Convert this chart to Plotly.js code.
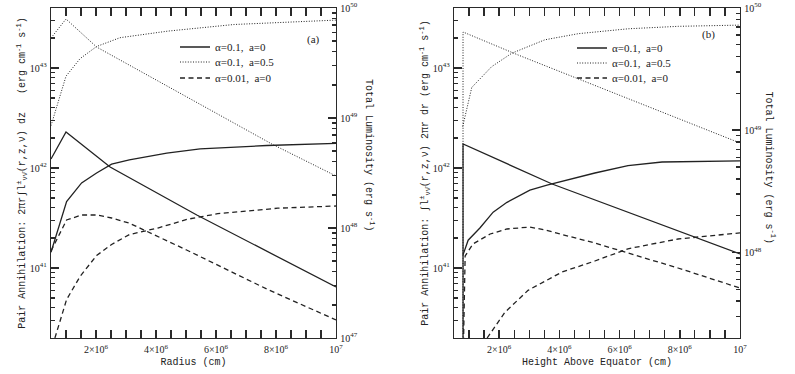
<!DOCTYPE html>
<html>
<head>
<meta charset="utf-8">
<script src="https://cdn.plot.ly/plotly-3.0.1.min.js"></script>
<style>
  html, body { margin: 0; padding: 0; background: #fff; }
  #chart { width: 795px; height: 374px; }
</style>
</head>
<body>
<div id="chart"></div>
<script>
// ---- panel (a): vs radius (cm); values are log10 of the plotted quantity ----
const radSolidLocal = [5e5, 1.0e6, 2.47e6, 5.36e6, 1e7];
const logSolidLocalA = [42.09, 42.36, 42.01, 41.53, 40.81];
const radSolidTotal = [5e5, 1.02e6, 1.52e6, 2.02e6, 2.52e6, 3.11e6, 4.36e6, 5.47e6, 7.69e6, 1e7];
const logSolidTotalA = [47.78, 48.24, 48.41, 48.50, 48.58, 48.62, 48.68, 48.72, 48.75, 48.77];

const radDotLocal = [5e5, 1.0e6, 2.02e6, 7.86e6, 1e7];
const logDotLocalA = [43.30, 43.49, 43.21, 42.24, 41.92];
const radDotTotal = [5e5, 1.0e6, 1.47e6, 2.02e6, 2.8e6, 4.4e6, 6.6e6, 1e7];
const logDotTotalA = [48.93, 49.38, 49.54, 49.65, 49.73, 49.79, 49.85, 49.89];

const radDashLocal = [5e5, 1.02e6, 1.52e6, 2.02e6, 2.52e6, 3.1e6, 5.02e6, 7.69e6, 1e7];
const logDashLocalA = [41.17, 41.48, 41.53, 41.53, 41.50, 41.45, 41.18, 40.79, 40.48];
const radDashTotal = [6.3e5, 1.02e6, 1.47e6, 2.02e6, 2.52e6, 3.11e6, 4.06e6, 5.06e6, 6.06e6, 8.06e6, 1e7];
const logDashTotalA = [47.0, 47.35, 47.56, 47.75, 47.85, 47.94, 48.00, 48.08, 48.13, 48.18, 48.20];

// ---- panel (b): vs height above equator (cm) ----
const hSolidLocal = [8e5, 8e5, 3.76e6, 1e7];
const logSolidLocalB = [40.0, 42.24, 41.84, 41.14];
const hSolidTotal = [8e5, 9.7e5, 1.36e6, 1.80e6, 2.26e6, 3.02e6, 3.59e6, 5.18e6, 6.28e6, 7.41e6, 1e7];
const logSolidTotalB = [47.98, 48.10, 48.20, 48.33, 48.41, 48.51, 48.55, 48.65, 48.71, 48.74, 48.75];

const hDotLocal = [8e5, 8e5, 2.63e6, 1e7];
const logDotLocalB = [40.0, 43.36, 43.13, 42.25];
const hDotTotal = [7.9e5, 1.09e6, 1.75e6, 2.42e6, 3.52e6, 4.63e6, 6.29e6, 7.95e6, 1e7];
const logDotTotalB = [49.03, 49.35, 49.52, 49.63, 49.74, 49.79, 49.83, 49.85, 49.86];

const hDashLocal = [8e5, 8.7e5, 1.13e6, 1.70e6, 2.26e6, 3.02e6, 3.52e6, 5.18e6, 6.28e6, 7.94e6, 1e7];
const logDashLocalB = [40.0, 41.12, 41.24, 41.34, 41.39, 41.41, 41.38, 41.25, 41.15, 41.00, 40.80];
const hDashTotal = [1.6e6, 2.19e6, 2.96e6, 4.09e6, 5.18e6, 6.28e6, 7.94e6, 1e7];
const logDashTotalB = [47.30, 47.51, 47.69, 47.84, 47.93, 48.03, 48.11, 48.16];

const seriesNames = ['α=0.1,  a=0', 'α=0.1,  a=0.5', 'α=0.01,  a=0'];
const xTickVals = [2e6, 4e6, 6e6, 8e6, 1e7];
const xTickText = ['2×10<sup>6</sup>', '4×10<sup>6</sup>', '6×10<sup>6</sup>', '8×10<sup>6</sup>', '10<sup>7</sup>'];

const ink = '#222';
const styles = [
    { color: ink, width: 1.3, dash: 'solid' },
    { color: ink, width: 1, dash: '1px,1.6px' },
    { color: ink, width: 1.3, dash: '5px,3.5px' }
];

// one legend box per row, so the rows sit as tight as in the figure
const legendIds = [['legend', 'legend2', 'legend3'], ['legend4', 'legend5', 'legend6']];

function curve(x, logs, idx, xa, ya, panel, inLegend) {
    return {
        x: x,
        y: logs.map(v => Math.pow(10, v)),
        xaxis: xa, yaxis: ya,
        type: 'scatter', mode: 'lines',
        name: seriesNames[idx],
        line: styles[idx],
        legend: legendIds[panel][idx],
        showlegend: inLegend,
        hoverinfo: 'skip'
    };
}

const traces = [
    curve(radSolidLocal, logSolidLocalA, 0, 'x', 'y', 0, true),
    curve(radDotLocal, logDotLocalA, 1, 'x', 'y', 0, true),
    curve(radDashLocal, logDashLocalA, 2, 'x', 'y', 0, true),
    curve(radSolidTotal, logSolidTotalA, 0, 'x', 'y2', 0, false),
    curve(radDotTotal, logDotTotalA, 1, 'x', 'y2', 0, false),
    curve(radDashTotal, logDashTotalA, 2, 'x', 'y2', 0, false),

    curve(hSolidLocal, logSolidLocalB, 0, 'x2', 'y3', 1, true),
    curve(hDotLocal, logDotLocalB, 1, 'x2', 'y3', 1, true),
    curve(hDashLocal, logDashLocalB, 2, 'x2', 'y3', 1, true),
    curve(hSolidTotal, logSolidTotalB, 0, 'x2', 'y4', 1, false),
    curve(hDotTotal, logDotTotalB, 1, 'x2', 'y4', 1, false),
    curve(hDashTotal, logDashTotalB, 2, 'x2', 'y4', 1, false)
];

const W = 795, H = 374;
const tickFont = { family: 'Liberation Serif, serif', size: 10, color: ink };
const titleFont = { family: 'Liberation Mono, monospace', size: 10, color: ink };
const axisColor = '#2a2a2a';
const yDomain = [1 - 338 / H, 1 - 8 / H];
const sp = '\u00a0';

// decade ticks 10^n, and minor ticks at 2..9 x 10^n, for a log range
function decadeTicks(range) {
    const vals = [], text = [], minors = [];
    for (let d = Math.floor(range[0]); d <= Math.ceil(range[1]); d++) {
        if (d >= range[0] - 1e-9 && d <= range[1] + 1e-9) {
            vals.push(Math.pow(10, d));
            text.push('10<sup>' + d + '</sup>');
        }
        for (let m = 2; m <= 9; m++) minors.push(m * Math.pow(10, d));
    }
    return { vals, text, minors };
}

function xAxis(left, right, anchor, title) {
    return {
        domain: [left / W, right / W], anchor: anchor,
        range: [5e5, 1e7],
        tickmode: 'array', tickvals: xTickVals, ticktext: xTickText,
        ticks: 'inside', ticklen: 8, tickwidth: 1.5, tickcolor: axisColor,
        minor: { ticks: 'inside', ticklen: 4, tickwidth: 1.3, tickmode: 'linear', tick0: 0, dtick: 5e5, tickcolor: axisColor },
        showline: true, linecolor: axisColor, linewidth: 1.3, mirror: 'allticks',
        showgrid: false, zeroline: false,
        tickfont: tickFont, ticklabelstandoff: 2,
        title: { text: title, font: titleFont, standoff: 3 }
    };
}

function logAxis(range, side, anchor, extra) {
    const t = decadeTicks(range);
    return Object.assign({
        type: 'log', range: range, side: side, anchor: anchor,
        tickmode: 'array', tickvals: t.vals, ticktext: t.text,
        ticks: 'inside', ticklen: 8, tickwidth: 1.5, tickcolor: axisColor,
        minor: {
            ticks: 'inside', ticklen: 4, tickwidth: 1.3, tickcolor: axisColor,
            tickmode: 'array', tickvals: t.minors
        },
        showline: true, linecolor: axisColor, linewidth: 1.3,
        showgrid: false, zeroline: false,
        tickfont: tickFont, ticklabelstandoff: 1
    }, extra);
}

function legendRow(left, top) {
    return {
        x: left / W, y: 1 - top / H, xanchor: 'left', yanchor: 'middle',
        bgcolor: 'rgba(0,0,0,0)', borderwidth: 0,
        font: { family: 'Liberation Serif, serif', size: 11, color: ink },
        itemwidth: 30
    };
}

const layout = {
    width: W, height: H,
    margin: { l: 0, r: 0, t: 0, b: 0 },
    paper_bgcolor: '#fff', plot_bgcolor: '#fff',
    xaxis: xAxis(51, 336, 'y', 'Radius (cm)'),
    xaxis2: xAxis(454, 740, 'y3', 'Height Above Equator (cm)'),
    yaxis: logAxis([40.3, 43.6], 'left', 'x', {
        domain: yDomain,
        title: { text: 'Pair Annihilation:' + sp + '2πr∫l<sup>±</sup><sub>νν̄</sub>(r,z,ν)' + sp + 'dz' + sp + sp + sp + '(erg' + sp + 'cm<sup>-1</sup>' + sp + 's<sup>-1</sup>)', font: titleFont, standoff: 2 }
    }),
    yaxis2: logAxis([47, 50], 'right', 'x', { overlaying: 'y' }),
    yaxis3: logAxis([40.3, 43.6], 'left', 'x2', {
        domain: yDomain,
        title: { text: 'Pair Annihilation:' + sp + '∫l<sup>±</sup><sub>νν̄</sub>(r,z,ν)' + sp + '2πr' + sp + 'dr' + sp + '(erg' + sp + 'cm<sup>-1</sup>' + sp + 's<sup>-1</sup>)', font: titleFont, standoff: 2 }
    }),
    yaxis4: logAxis([47.3, 50], 'right', 'x2', { overlaying: 'y3' }),
    legend: legendRow(175, 47),
    legend2: legendRow(175, 62),
    legend3: legendRow(175, 78),
    legend4: legendRow(572, 48),
    legend5: legendRow(572, 63),
    legend6: legendRow(572, 78),
    annotations: [
        { text: '(a)', x: 313 / W, y: 1 - 31 / H, xref: 'paper', yref: 'paper', showarrow: false, font: { family: 'Liberation Serif, serif', size: 11, color: ink } },
        { text: '(b)', x: 717 / W, y: 1 - 26 / H, xref: 'paper', yref: 'paper', showarrow: false, font: { family: 'Liberation Serif, serif', size: 11, color: ink } },
        { text: 'Total Luminosity (erg s<sup>-1</sup>)', textangle: 90, x: 370 / W, y: 1 - 155 / H, xref: 'paper', yref: 'paper', showarrow: false, font: titleFont },
        { text: 'Total Luminosity (erg s<sup>-1</sup>)', textangle: 90, x: 779 / W, y: 1 - 167 / H, xref: 'paper', yref: 'paper', showarrow: false, font: titleFont }
    ]
};

Plotly.newPlot('chart', traces, layout, { displayModeBar: false, staticPlot: true });
</script>
</body>
</html>
